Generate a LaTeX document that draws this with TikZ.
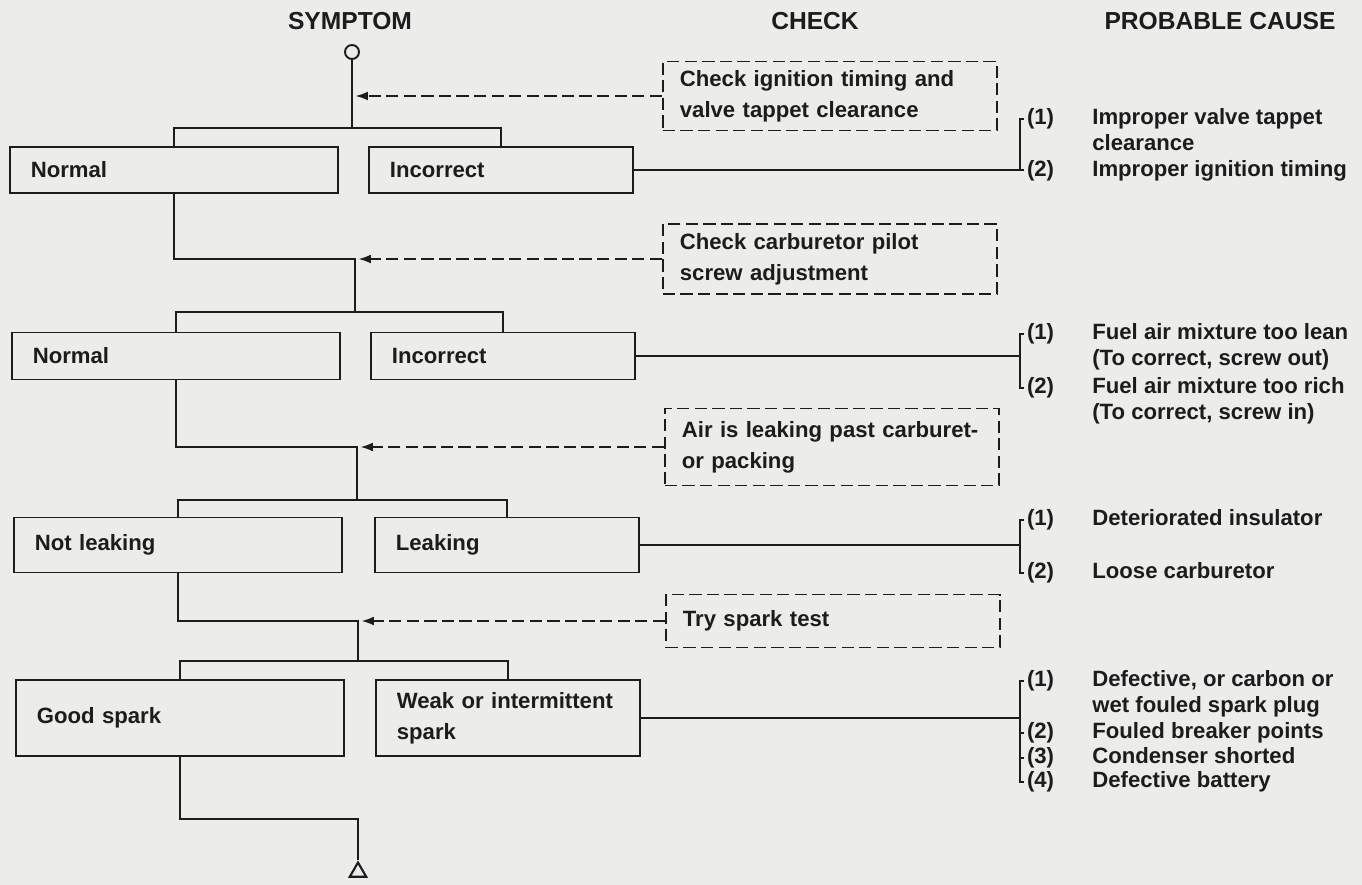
\documentclass[tikz,border=0pt]{standalone}
\usepackage{fontspec}
\setmainfont{Liberation Sans}
\usepackage{xcolor}
\usetikzlibrary{arrows.meta}
\usetikzlibrary{calc}
\usetikzlibrary{shapes.geometric}

\definecolor{paper}{RGB}{236,236,234}
\definecolor{ink}{RGB}{28,28,28}
\newcommand{\boxfont}{\fontsize{12.6}{17.5}\selectfont\bfseries}
\newcommand{\causefont}{\fontsize{12.6}{14.6}\selectfont\bfseries}

\tikzset{
  symbox/.style={draw=ink, line width=1pt, anchor=west, align=left, inner xsep=0.42cm, inner ysep=0pt, font=\boxfont, text=ink},
  leftbox/.style={symbox, text width=5.72cm},
  rightbox/.style={symbox, text width=4.44cm},
  chkbox/.style={draw=ink, line width=1pt, dash pattern=on 7pt off 3pt, anchor=west, align=left, text width=6.0cm, inner xsep=0.34cm, inner ysep=0pt, font=\boxfont, text=ink},
  flow/.style={draw=ink, line width=1pt},
  chkline/.style={draw=ink, line width=1pt, dash pattern=on 7pt off 3pt, -{Latex[length=7pt,width=5pt]}, shorten >=2pt},
  head/.style={font=\fontsize{14}{16}\selectfont\bfseries, text=ink},
  num/.style={anchor=west, inner xsep=1.5pt, inner ysep=0pt, font=\causefont, text=ink},
  cause/.style={anchor=base west, inner sep=0pt, font=\causefont, text=ink},
}

\begin{document}
\begin{tikzpicture}[x=0.02cm,y=-0.02cm]
    \fill[paper] (0,0) rectangle (1362,885);
    \useasboundingbox (0,0) rectangle (1362,885);

    % headings
    \node[head] (symhd) at (350,21) {SYMPTOM};
    \node[head] (chkhd) at (815,21) {CHECK};
    \node[head] (causehd) at (1220,21) {PROBABLE CAUSE};

    % symptom column
    \node[draw=ink, circle, line width=1.1pt, minimum size=0.28cm, inner sep=0pt] (start) at (352,52) {};
    \node[leftbox, minimum height=0.92cm] (norm1) at (9,170) {Normal};
    \node[rightbox, minimum height=0.92cm] (inc1) at (368,170) {Incorrect};
    \node[leftbox, minimum height=0.94cm] (norm2) at (11,356) {Normal};
    \node[rightbox, minimum height=0.94cm] (inc2) at (370,356) {Incorrect};
    \node[leftbox, minimum height=1.1cm] (noleak) at (13,545) {Not leaking};
    \node[rightbox, minimum height=1.1cm] (leak) at (374,545) {Leaking};
    \node[leftbox, minimum height=1.52cm] (good) at (15,718) {Good spark};
    \node[rightbox, minimum height=1.52cm] (weak) at (375,718) {Weak or intermittent\\spark};
    \node[draw=ink, regular polygon, regular polygon sides=3, line width=1.2pt, minimum size=0.38cm, inner sep=0pt, fill=paper] (stop) at (358,872) {};

    % check column
    \node[chkbox, minimum height=1.38cm] (chk1) at (662,96) {Check ignition timing and\\valve tappet clearance};
    \node[chkbox, minimum height=1.40cm] (chk2) at (662,259) {Check carburetor pilot\\screw adjustment};
    \node[chkbox, minimum height=1.54cm] (chk3) at (664,447) {Air is leaking past carburet-\\or packing};
    \node[chkbox, minimum height=1.06cm] (chk4) at (665,621) {Try spark test};

    % trunk
    \coordinate (fork1) at (352,128);
    \coordinate (merge1) at (355,259);
    \coordinate (fork2) at (355,312);
    \coordinate (merge2) at (357,447);
    \coordinate (fork3) at (357,500);
    \coordinate (merge3) at (358,621);
    \coordinate (fork4) at (358,661);
    \coordinate (merge4) at (358,819);

    \draw[flow] (start) -- (fork1);
    \draw[flow] (norm1.north) |- (fork1) -| (inc1.north);
    \draw[flow] (norm1.south) |- (merge1) -- (fork2);
    \draw[flow] (norm2.north) |- (fork2) -| (inc2.north);
    \draw[flow] (norm2.south) |- (merge2) -- (fork3);
    \draw[flow] (noleak.north) |- (fork3) -| (leak.north);
    \draw[flow] (noleak.south) |- (merge3) -- (fork4);
    \draw[flow] (good.north) |- (fork4) -| (weak.north);
    \draw[flow] (good.south) |- (merge4) -- (stop.north);

    \draw[chkline] (chk1.west) -- (chk1.west -| start);
    \draw[chkline] (chk2.west) -- (merge1);
    \draw[chkline] (chk3.west) -- (merge2);
    \draw[chkline] (chk4.west) -- (merge3);

    % probable causes
    \coordinate (bx) at (1020,0);
    \coordinate (tx) at (1092,0);

    \node[num] (c1n1) at (1024,119) {(1)};
    \node[cause] (c1t1) at (c1n1.base -| tx) {\begin{tabular}[t]{@{}l@{}}Improper valve tappet\\clearance\end{tabular}};
    \node[num] (c1n2) at (1024,171) {(2)};
    \node[cause] (c1t2) at (c1n2.base -| tx) {Improper ignition timing};
    \draw[flow] (inc1.east) -- (inc1.east -| c1n2.west);
    \draw[flow] (c1n1.west) -| (inc1.east -| bx);

    \node[num] (c2n1) at (1024,334) {(1)};
    \node[cause] (c2t1) at (c2n1.base -| tx) {\begin{tabular}[t]{@{}l@{}}Fuel air mixture too lean\\(To correct, screw out)\end{tabular}};
    \node[num] (c2n2) at (1024,388) {(2)};
    \node[cause] (c2t2) at (c2n2.base -| tx) {\begin{tabular}[t]{@{}l@{}}Fuel air mixture too rich\\(To correct, screw in)\end{tabular}};
    \draw[flow] (inc2.east) -- (inc2.east -| bx);
    \draw[flow] (c2n1.west) -| (c2n2.west -| bx) -- (c2n2.west);

    \node[num] (c3n1) at (1024,520) {(1)};
    \node[cause] (c3t1) at (c3n1.base -| tx) {Deteriorated insulator};
    \node[num] (c3n2) at (1024,573) {(2)};
    \node[cause] (c3t2) at (c3n2.base -| tx) {Loose carburetor};
    \draw[flow] (leak.east) -- (leak.east -| bx);
    \draw[flow] (c3n1.west) -| (c3n2.west -| bx) -- (c3n2.west);

    \node[num] (c4n1) at (1024,681) {(1)};
    \node[cause] (c4t1) at (c4n1.base -| tx) {\begin{tabular}[t]{@{}l@{}}Defective, or carbon or\\wet fouled spark plug\end{tabular}};
    \node[num] (c4n2) at (1024,733) {(2)};
    \node[cause] (c4t2) at (c4n2.base -| tx) {Fouled breaker points};
    \node[num] (c4n3) at (1024,758) {(3)};
    \node[cause] (c4t3) at (c4n3.base -| tx) {Condenser shorted};
    \node[num] (c4n4) at (1024,782) {(4)};
    \node[cause] (c4t4) at (c4n4.base -| tx) {Defective battery};
    \draw[flow] (weak.east) -- (weak.east -| bx);
    \draw[flow] (c4n1.west) -| (c4n4.west -| bx) -- (c4n4.west);
    \draw[flow] (c4n2.west) -- (c4n2.west -| bx);
    \draw[flow] (c4n3.west) -- (c4n3.west -| bx);
\end{tikzpicture}
\end{document}
